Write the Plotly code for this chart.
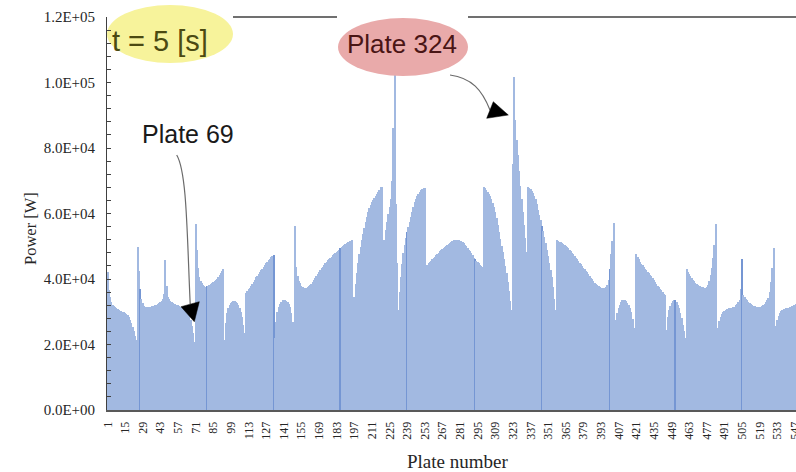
import plotly.graph_objects as go

# Power per plate at t = 5 s, in kW (plates 1..548)
power_kw = [
    42.0, 36.5, 34.5, 33.0, 32.2, 31.8, 31.4, 31.0, 30.7, 30.5,
    30.3, 30.1, 30.0, 29.8, 29.6, 29.3, 29.0, 28.4, 27.6, 26.6,
    25.4, 24.0, 22.5, 21.4, 49.9, 42.5, 37.0, 34.0, 32.6, 31.8,
    31.5, 31.4, 31.4, 31.5, 31.6, 31.7, 31.8, 31.9, 32.0, 32.2,
    32.4, 32.6, 32.9, 33.3, 34.0, 35.5, 45.8, 38.0, 34.6, 33.8,
    33.3, 33.0, 32.7, 32.5, 32.3, 32.1, 32.0, 31.7, 31.5, 31.3,
    31.1, 30.9, 30.7, 30.5, 30.0, 29.0, 27.5, 25.8, 23.5, 20.9,
    56.8, 48.9, 43.5, 40.5, 39.5, 38.8, 38.2, 37.8, 37.7, 37.8,
    38.0, 38.2, 38.5, 38.8, 39.0, 39.3, 39.7, 40.1, 40.6, 41.2,
    41.8, 42.5, 43.0, 21.4, 26.5, 29.6, 31.0, 32.0, 32.6, 33.0,
    33.2, 33.2, 33.0, 32.6, 32.0, 31.2, 30.0, 28.3, 26.0, 23.5,
    35.7, 36.2, 36.8, 37.4, 38.0, 38.6, 39.2, 39.8, 40.5, 41.0,
    41.6, 42.1, 42.6, 43.1, 43.7, 44.3, 44.8, 45.3, 45.7, 46.2,
    46.6, 47.0, 47.4, 22.0, 27.0, 29.8, 31.3, 32.4, 33.1, 33.5,
    33.6, 33.5, 33.3, 33.0, 32.3, 31.3, 29.6, 27.0, 24.4, 56.2,
    43.8, 41.0, 39.5, 38.7, 38.0, 37.6, 37.3, 37.2, 37.3, 37.5,
    37.8, 38.2, 38.6, 39.2, 39.8, 40.4, 41.0, 41.6, 42.2, 42.7,
    43.3, 43.8, 44.3, 44.8, 45.3, 45.7, 46.1, 46.5, 46.8, 47.2,
    47.6, 48.0, 48.3, 48.7, 49.0, 49.4, 49.7, 50.0, 50.3, 50.6,
    50.9, 51.2, 51.4, 51.7, 51.9, 30.5, 34.5, 38.5, 41.8, 44.8,
    47.5, 49.8, 51.9, 53.8, 55.6, 57.3, 58.9, 60.4, 61.6, 62.6,
    63.4, 64.1, 64.8, 65.4, 66.0, 66.6, 67.3, 68.0, 68.2, 48.3,
    52.0, 55.0, 57.5, 60.0, 62.0, 64.5, 70.0, 86.0, 103.0, 63.0,
    45.0, 30.5, 36.0, 40.5, 44.5, 47.8, 50.5, 52.6, 54.4, 56.0,
    57.5, 59.0, 60.5, 62.0, 63.4, 64.4, 65.3, 66.0, 66.6, 67.1,
    67.5, 67.7, 67.9, 43.8, 44.3, 44.8, 45.2, 45.6, 46.0, 46.4,
    46.8, 47.2, 47.6, 48.0, 48.4, 48.8, 49.2, 49.5, 49.9, 50.2,
    50.5, 50.8, 51.1, 51.4, 51.7, 51.9, 52.0, 52.0, 51.9, 51.8,
    51.7, 51.5, 51.2, 50.9, 50.5, 50.0, 49.5, 49.0, 48.5, 47.9,
    47.2, 46.5, 46.0, 45.6, 45.2, 44.8, 44.4, 44.1, 43.8, 68.2,
    67.7, 67.2, 66.6, 66.0, 65.2, 64.3, 63.2, 61.9, 60.4, 58.6,
    56.6, 54.5, 52.3, 50.2, 48.1, 46.0, 44.0, 41.8, 39.2, 36.3,
    33.2, 30.5, 75.0, 101.6, 88.5, 82.5, 78.0, 73.0, 68.5, 64.5,
    60.5, 56.5, 52.5, 48.3, 68.2, 67.8, 67.4, 66.9, 66.3, 65.4,
    64.3, 62.8, 61.2, 59.6, 58.0, 56.3, 54.6, 52.8, 51.0, 49.0,
    47.0, 45.0, 42.8, 40.5, 37.5, 34.0, 30.5, 51.9, 51.6, 51.4,
    51.2, 51.0, 50.8, 50.5, 50.2, 49.8, 49.4, 49.0, 48.5, 48.0,
    47.5, 47.0, 46.5, 46.0, 45.5, 45.0, 44.5, 44.0, 43.5, 43.0,
    42.5, 42.0, 41.4, 40.9, 40.4, 39.9, 39.4, 38.9, 38.5, 38.1,
    37.8, 37.5, 37.3, 37.2, 37.2, 37.3, 37.6, 38.3, 39.7, 43.0,
    47.5, 51.5, 57.0, 24.4, 27.5, 29.5, 31.0, 32.2, 33.0, 33.5,
    33.6, 33.5, 33.2, 32.8, 32.2, 31.2, 29.8, 27.8, 25.0, 21.4,
    47.6, 46.8, 46.0, 45.3, 44.7, 44.2, 43.7, 43.2, 42.7, 42.2,
    41.8, 41.3, 40.8, 40.3, 39.8, 39.2, 38.6, 38.0, 37.5, 37.0,
    36.5, 36.0, 35.5, 35.1, 24.4, 28.5, 30.5, 31.8, 32.7, 33.3,
    33.6, 33.5, 33.0, 32.2, 31.0, 29.6, 28.0, 26.0, 24.0, 21.9,
    43.0, 42.2, 41.5, 40.8, 40.2, 39.7, 39.3, 38.9, 38.6, 38.3,
    38.0, 37.8, 37.6, 37.5, 37.4, 37.4, 37.6, 38.2, 39.5, 41.2,
    43.5, 46.5, 50.5, 56.8, 20.9, 25.0, 27.2, 28.5, 29.3, 29.9,
    30.3, 30.6, 30.8, 30.9, 31.0, 31.0, 31.1, 31.3, 31.6, 32.0,
    32.4, 32.9, 33.6, 37.0, 46.0, 35.1, 34.6, 34.0, 33.5, 33.0,
    32.6, 32.3, 32.0, 31.8, 31.7, 31.6, 31.5, 31.5, 31.5, 31.6,
    31.7, 32.0, 32.4, 32.9, 33.5, 34.3, 36.0, 39.0, 43.5, 49.6,
    21.4, 25.5, 27.5, 28.8, 29.7, 30.3, 30.6, 30.8, 30.9, 31.0,
    31.1, 31.2, 31.4, 31.6, 31.8, 32.0, 32.2, 32.4,
]
plates = list(range(1, len(power_kw) + 1))
power_w = [v * 1000 for v in power_kw]

x_tick_plates = [1, 15, 29, 43, 57, 71, 85, 99, 113, 127, 141, 155, 169, 183,
                 197, 211, 225, 239, 253, 267, 281, 295, 309, 323, 337, 351,
                 365, 379, 393, 407, 421, 435, 449, 463, 477, 491, 505, 519,
                 533, 547]
x_tick_labels = [str(p) for p in x_tick_plates]
y_tick_values = [0, 20000, 40000, 60000, 80000, 100000, 120000]
y_tick_labels = ["0.0E+00", "2.0E+04", "4.0E+04", "6.0E+04",
                 "8.0E+04", "1.0E+05", "1.2E+05"]

# plates whose bar edge renders as a darker seam
seam_plates = [27, 80, 133, 186, 239, 293, 346, 400, 452, 505]

BAR = "#a2b9e1"
SEAM = "#7596d3"
colors = [SEAM if p in seam_plates else BAR for p in plates]

W, H = 796, 472
L, T, B = 107, 17, 62
PW, PH = W - L, H - T - B


def px(x):
    return (x - L) / PW


def py(y):
    return (H - B - y) / PH


fig = go.Figure(go.Bar(
    x=plates, y=power_w,
    marker=dict(color=colors, line=dict(width=0)),
    hoverinfo="x+y",
))

axis_dark = "#404040"
shapes = [
    # callout backgrounds
    dict(type="circle", xref="paper", yref="paper",
         x0=px(107), x1=px(233), y0=py(63), y1=py(5),
         fillcolor="#f7f39b", line=dict(width=0), layer="below"),
    dict(type="circle", xref="paper", yref="paper",
         x0=px(338), x1=px(468), y0=py(76), y1=py(18),
         fillcolor="#e9aaaa", line=dict(width=0), layer="above"),
    # top frame
    dict(type="line", xref="paper", yref="paper",
         x0=px(233), x1=px(337), y0=1, y1=1,
         line=dict(color=axis_dark, width=1.3)),
    dict(type="line", xref="paper", yref="paper",
         x0=px(468), x1=1, y0=1, y1=1,
         line=dict(color=axis_dark, width=1.3)),
    # arrow to plate 69
    dict(type="path", xref="paper", yref="paper",
         path=(f"M {px(176.7)},{py(155)} C {px(187)},{py(172)} "
               f"{px(187)},{py(235)} {px(190.2)},{py(304)}"),
         line=dict(color="#6b6b6b", width=1.2)),
    dict(type="path", xref="paper", yref="paper",
         path=(f"M {px(181)},{py(306.7)} L {px(199.3)},{py(301.7)} "
               f"L {px(194.3)},{py(321.7)} Z"),
         fillcolor="black", line=dict(color="black", width=0.5)),
    # arrow to plate 324
    dict(type="path", xref="paper", yref="paper",
         path=(f"M {px(450)},{py(75)} C {px(472)},{py(78)} "
               f"{px(482)},{py(90)} {px(490)},{py(110)}"),
         line=dict(color="#6b6b6b", width=1.2)),
    dict(type="path", xref="paper", yref="paper",
         path=(f"M {px(486.7)},{py(118.3)} L {px(493.3)},{py(101.7)} "
               f"L {px(508.3)},{py(115)} Z"),
         fillcolor="black", line=dict(color="black", width=0.5)),
]

annotations = [
    dict(text="t = 5 [s]", x=px(160), y=py(41),
         font=dict(family="Liberation Sans", size=29, color="#4b4a12")),
    dict(text="Plate 324", x=px(401.7), y=py(44),
         font=dict(family="Liberation Sans", size=26, color="#4a1515")),
    dict(text="Plate 69", x=px(187.5), y=py(134),
         font=dict(family="Liberation Sans", size=25, color="#1a1a1a")),
    dict(text="Power [W]", x=px(31), y=py(229), textangle=-90,
         font=dict(family="Liberation Serif", size=16.5, color="#262626")),
    dict(text="Plate number", x=px(457), y=py(461),
         font=dict(family="Liberation Serif", size=19, color="#262626")),
]
for a in annotations:
    a.update(xref="paper", yref="paper", showarrow=False,
             xanchor="center", yanchor="middle")

fig.update_layout(
    width=W, height=H,
    margin=dict(l=L, r=0, t=T, b=B, pad=0, autoexpand=False),
    paper_bgcolor="white",
    plot_bgcolor="rgba(0,0,0,0)",
    bargap=0,
    showlegend=False,
    shapes=shapes,
    annotations=annotations,
    xaxis=dict(
        range=[0.5, 0.5 + PW / 1.259],
        automargin=False,
        tickmode="array", tickvals=x_tick_plates, ticktext=x_tick_labels,
        tickangle=-90, ticks="", ticklabelstandoff=5,
        ticklabeloverflow="allow",
        tickfont=dict(family="Liberation Serif", size=12, color="#262626"),
        showline=True, linecolor="#595959", linewidth=2,
        showgrid=False, zeroline=False,
    ),
    yaxis=dict(
        range=[0, 120000],
        automargin=False,
        tickmode="array", tickvals=y_tick_values, ticktext=y_tick_labels,
        ticks="inside", ticklen=4, tickcolor=axis_dark, ticklabelstandoff=8,
        minor=dict(tickmode="linear", tick0=0, dtick=4000, ticks="inside",
                   ticklen=4, tickcolor=axis_dark, showgrid=False),
        tickfont=dict(family="Liberation Serif", size=15, color="#262626"),
        showline=True, linecolor=axis_dark, linewidth=1,
        showgrid=False, zeroline=False,
    ),
)

fig.write_html("out.html")
